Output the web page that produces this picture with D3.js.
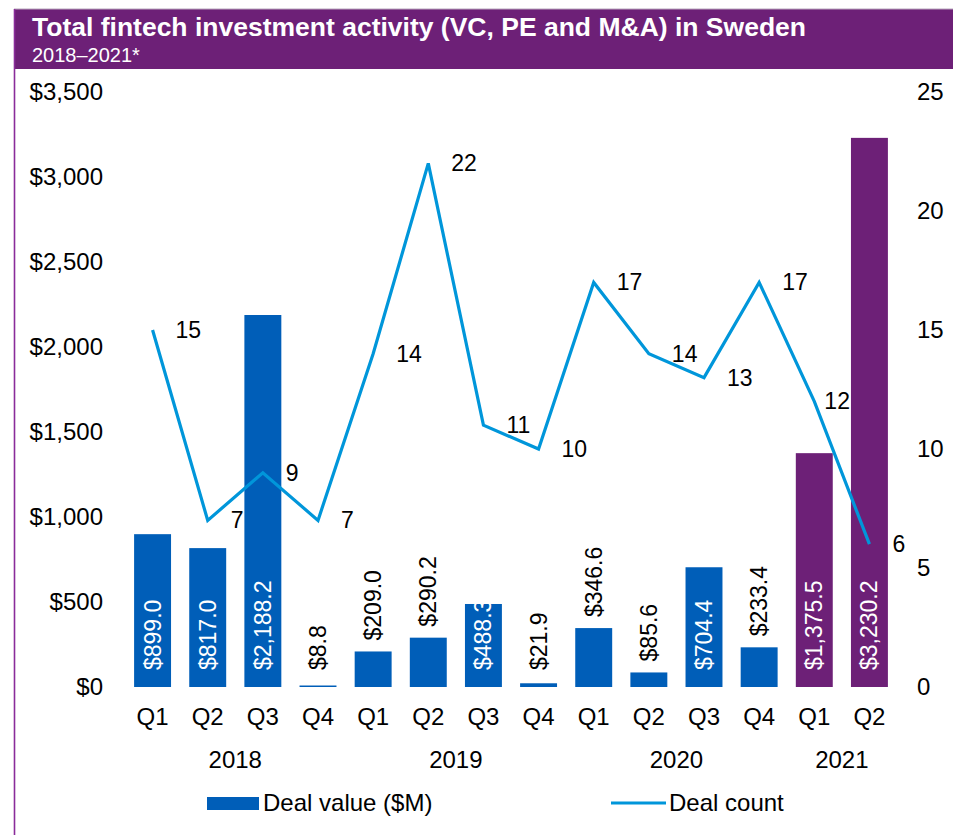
<!DOCTYPE html>
<html>
<head>
<meta charset="utf-8">
<script src="https://cdn.jsdelivr.net/npm/d3@7"></script>
<style>
  html, body { margin: 0; padding: 0; background: #ffffff; }
  svg { display: block; font-family: "Liberation Sans", Arial, sans-serif; }
</style>
</head>
<body>
<svg id="chart" width="953" height="835"></svg>
<script>
// Quarterly fintech investment in Sweden, 2018 to Q2 2021
const quarters = ["Q1", "Q2", "Q3", "Q4", "Q1", "Q2", "Q3", "Q4", "Q1", "Q2", "Q3", "Q4", "Q1", "Q2"];
const years = [2018, 2018, 2018, 2018, 2019, 2019, 2019, 2019, 2020, 2020, 2020, 2020, 2021, 2021];
const dealValue = [899.0, 817.0, 2188.2, 8.8, 209.0, 290.2, 488.3, 21.9, 346.6, 85.6, 704.4, 233.4, 1375.5, 3230.2];
const dealCount = [15, 7, 9, 7, 14, 22, 11, 10, 17, 14, 13, 17, 12, 6];
const valueTicks = [0, 500, 1000, 1500, 2000, 2500, 3000, 3500];
const countTicks = [0, 5, 10, 15, 20, 25];
const highlightYear = 2021;

const BLUE = "#005eb8";
const PURPLE = "#6d2077";
const LINE = "#0096da";

const svg = d3.select("#chart");
const W = 953, H = 835;

// header band and left rule
svg.append("rect").attr("x", 14).attr("y", 9).attr("width", W - 14).attr("height", 60).attr("fill", PURPLE);
svg.append("line").attr("x1", 14).attr("x2", W).attr("y1", 9).attr("y2", 9)
  .attr("stroke", "#b9a6bd").attr("stroke-width", 1);
svg.append("line").attr("x1", 14.5).attr("x2", 14.5).attr("y1", 9).attr("y2", H)
  .attr("stroke", "#8a2c9a").attr("stroke-width", 1.6);

svg.append("text").attr("x", 32).attr("y", 36)
  .attr("fill", "#fff").attr("font-weight", "bold").attr("font-size", 26.5)
  .text("Total fintech investment activity (VC, PE and M&A) in Sweden");
svg.append("text").attr("x", 32).attr("y", 62)
  .attr("fill", "#fff").attr("font-size", 20)
  .text("2018\u20132021*");

const data = quarters.map((q, i) => ({ i, q, year: years[i], value: dealValue[i], count: dealCount[i] }));

const x = d3.scaleBand().domain(d3.range(data.length)).range([125, 897]).paddingInner(0.33).paddingOuter(0.165);
const yL = d3.scaleLinear().domain([0, 3500]).range([687, 92]);
const yR = d3.scaleLinear().domain([0, 25]).range([687, 92]);
const cx = i => x(i) + x.bandwidth() / 2;

// left axis (deal value)
const axL = svg.append("g").attr("transform", "translate(111,0)")
  .call(d3.axisLeft(yL).tickValues(valueTicks).tickSize(0).tickPadding(8).tickFormat(d => "$" + d3.format(",")(d)));
axL.select(".domain").remove();
axL.selectAll("text").attr("font-size", 24).attr("fill", "#000").attr("font-family", "Liberation Sans, Arial, sans-serif");

// right axis (deal count)
const axR = svg.append("g").attr("transform", "translate(909,0)")
  .call(d3.axisRight(yR).tickValues(countTicks).tickSize(0).tickPadding(8));
axR.select(".domain").remove();
axR.selectAll("text").attr("font-size", 24).attr("fill", "#000").attr("font-family", "Liberation Sans, Arial, sans-serif");

// bars
svg.append("g").selectAll("rect").data(data).join("rect")
  .attr("x", d => x(d.i))
  .attr("width", x.bandwidth())
  .attr("y", d => yL(d.value))
  .attr("height", d => yL(0) - yL(d.value))
  .attr("fill", d => d.year === highlightYear ? PURPLE : BLUE);

// bar value labels: inside the bar when it is tall enough, above otherwise
const fmt = d => "$" + d3.format(",.1f")(d);
const inside = d => d.value > 400;
svg.append("g").selectAll("text").data(data).join("text")
  .attr("transform", d => {
    const start = inside(d) ? yL(0) - 17 : Math.min(yL(0) - 17, yL(d.value) - 11);
    return `translate(${cx(d.i)},${start}) rotate(-90)`;
  })
  .attr("dy", "0.35em")
  .attr("font-size", 23)
  .attr("fill", d => inside(d) ? "#fff" : "#000")
  .text(d => fmt(d.value));

// deal count line
const line = d3.line().x(d => cx(d.i)).y(d => yR(d.count));
svg.append("path").datum(data).attr("d", line)
  .attr("fill", "none").attr("stroke", LINE).attr("stroke-width", 3.2).attr("stroke-linejoin", "miter");

// count labels sit right of each point, pulled left if they would run into the next bar
svg.append("g").selectAll("text").data(data).join("text")
  .attr("y", d => yR(d.count))
  .attr("dy", "0.35em")
  .attr("font-size", 23)
  .attr("fill", "#000")
  .text(d => d.count)
  .attr("x", function (d) {
    const w = this.getComputedTextLength();
    let px = cx(d.i) + 23;
    const next = data[d.i + 1];
    if (next && yR(d.count) > yL(next.value) && px + w > x(next.i)) px = x(next.i) - w - 1;
    return px;
  });

// category axis: quarters, then years
svg.append("g").selectAll("text").data(data).join("text")
  .attr("x", d => cx(d.i)).attr("y", 717).attr("dy", "0.35em")
  .attr("text-anchor", "middle").attr("font-size", 24).attr("fill", "#000")
  .text(d => d.q);

const yearGroups = d3.groups(data, d => d.year);
svg.append("g").selectAll("text").data(yearGroups).join("text")
  .attr("x", g => d3.mean(g[1], d => cx(d.i))).attr("y", 760).attr("dy", "0.35em")
  .attr("text-anchor", "middle").attr("font-size", 24).attr("fill", "#000")
  .text(g => g[0]);

// legend
const lg = svg.append("g");
lg.append("rect").attr("x", 207).attr("y", 797).attr("width", 52).attr("height", 13).attr("fill", BLUE);
lg.append("text").attr("x", 263).attr("y", 803).attr("dy", "0.35em").attr("font-size", 24).text("Deal value ($M)");
lg.append("line").attr("x1", 611).attr("x2", 666).attr("y1", 803).attr("y2", 803).attr("stroke", LINE).attr("stroke-width", 3.2);
lg.append("text").attr("x", 669).attr("y", 803).attr("dy", "0.35em").attr("font-size", 24).text("Deal count");
</script>
</body>
</html>
